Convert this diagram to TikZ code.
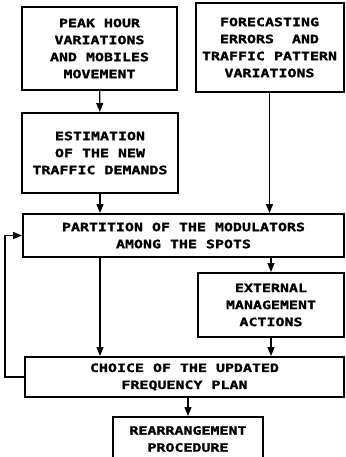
\documentclass[tikz,border=0pt]{standalone}
\usepackage{fontspec}
\usepackage{tikz}
\usetikzlibrary{arrows.meta,calc,positioning}
\newfontfamily\plotfont[FakeStretch=1.3,FakeBold=1.5]{DejaVu Sans Mono}

\begin{document}
\begin{tikzpicture}[x=1pt,y=-1pt,->,>={Triangle[length=9pt,width=7pt]},line width=1.3pt,
  font=\plotfont\bfseries\fontsize{11.5}{17}\selectfont]
\tikzstyle{block}=[draw,line width=2pt,rectangle,align=center,inner sep=0pt]
\useasboundingbox (0,0) rectangle (345,457);

\node[block,minimum width=155pt,minimum height=83pt] (peak) at (99.5,48.5) {PEAK HOUR\\VARIATIONS\\AND MOBILES\\MOVEMENT};
\node[block,minimum width=148pt,minimum height=89pt] (fore) at (269.5,47.5) {FORECASTING\\ERRORS\ \ AND\\TRAFFIC PATTERN\\VARIATIONS};
\node[block,minimum width=156pt,minimum height=80pt] (estim) at (100,153) {ESTIMATION\\OF THE NEW\\TRAFFIC DEMANDS};
\node[block,minimum width=321pt,minimum height=43pt] (part) at (183.5,235.5) {PARTITION OF THE MODULATORS\\AMONG THE SPOTS};
\node[block,minimum width=146pt,minimum height=64pt] (ext) at (271,305) {EXTERNAL\\MANAGEMENT\\ACTIONS};
\node[block,minimum width=319pt,minimum height=40pt] (choice) at (184.5,377) {CHOICE OF THE UPDATED\\FREQUENCY PLAN};
\node[block,minimum width=150pt,minimum height=44pt] (rearr) at (188,439) {REARRANGEMENT\\PROCEDURE};

\draw (peak) -- (estim);
\draw (estim.south) -- (estim.south |- part.north);
\draw (fore.south) -- (fore.south |- part.north);
\draw (ext.north |- part.south) -- (ext.north);
\draw ($(estim.south |- part.south)$) -- (estim.south |- choice.north);
\draw (ext.south) -- (ext.south |- choice.north);
\draw (rearr.north |- choice.south) -- (rearr.north);
\draw (choice.west) -- ++(-19,0) |- (part.west);
\end{tikzpicture}
\end{document}
